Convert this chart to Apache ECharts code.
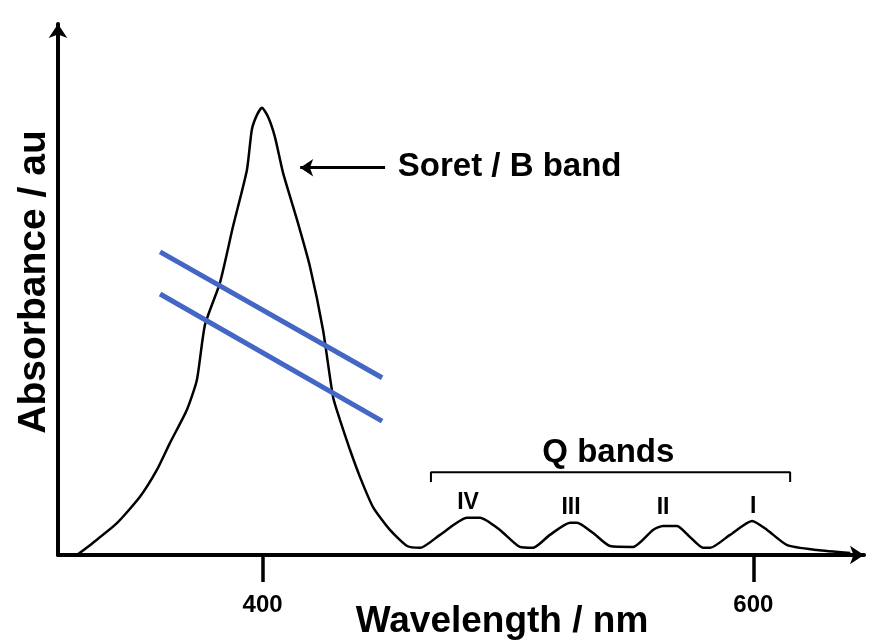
<!DOCTYPE html>
<html><head><meta charset="utf-8">
<script src="https://cdn.jsdelivr.net/npm/echarts@6/dist/echarts.min.js"></script>
<style>html,body{margin:0;padding:0;background:#fff}#c{width:871px;height:641px}</style>
</head><body><div id="c"></div>
<script>
// Spectrum (wavelength nm, absorbance au)
const wavelength = [324.3,330.8,340.6,350.0,356.9,362.2,369.1,373.2,376.5,382.6,387.9,393.6,395.6,397.7,399.7,402.2,405.0,408.3,414.0,419.3,424.6,428.7,431.5,435.6,439.7,445.0,451.9,458.9,464.2,472.3,483.3,488.6,496.7,504.9,510.2,517.1,525.3,528.1,534.7,541.6,551.0,559.1,563.2,568.9,574.2,579.5,582.4,590.5,599.5,605.6,613.8,626.0,639.5];
const absorbance = [0.0,2.7,7.1,13.0,19.0,25.0,32.4,39.1,51.4,60.8,73.3,86.0,95.0,98.3,99.9,97.9,93.4,85.4,74.9,64.4,50.3,35.3,30.2,23.5,17.4,10.7,5.6,2.0,1.6,4.5,8.3,8.3,5.6,1.8,1.6,4.5,7.2,7.2,4.9,2.0,1.8,5.6,6.5,6.5,4.0,1.6,1.6,4.5,7.6,5.6,2.2,1.1,0.45];
const tickValues = [400, 600];
const qBandLabels = ['IV','III','II','I'];
const qBandX = [483.7, 525.7, 563.2, 599.9];
const qBandY = [11.8, 10.5, 10.5, 10.7];
const breakLine1 = [[358.2,67.7],[448.7,39.6]];
const breakLine2 = [[358.2,58.3],[448.7,29.9]];
const bracket = [[468.6,16.3],[468.6,18.5],[615.0,18.5],[615.0,16.3]];
const soretArrow = [[449.9,86.5],[415.3,86.5]];

const FONT = 'Arial, "Liberation Sans", Helvetica, sans-serif';
const chart = echarts.init(document.getElementById('c'), null, {renderer:'canvas'});
const blue = '#4466C4';
const option = {
  animation:false,
  backgroundColor:'#ffffff',
  grid:{left:58, right:7, top:24, bottom:86},
  xAxis:{type:'value', min:316.6, max:645.1,
    axisLine:{show:true, symbol:['none','arrow'], symbolSize:[14,14], lineStyle:{color:'#000', width:4}},
    axisTick:{show:true, customValues:tickValues, length:27, inside:false, lineStyle:{color:'#000', width:3.5}},
    axisLabel:{show:true, customValues:tickValues, margin:38, fontSize:24, fontWeight:'bold', color:'#000', fontFamily:FONT},
    splitLine:{show:false}},
  yAxis:{type:'value', min:0, max:118.6,
    axisLine:{show:true, symbol:['none','arrow'], symbolSize:[14,14], lineStyle:{color:'#000', width:4}},
    axisTick:{show:false}, axisLabel:{show:false}, splitLine:{show:false}},
  series:[
    {type:'line', data:wavelength.map((w,i)=>[w,absorbance[i]]), showSymbol:false, smooth:0.2,
      lineStyle:{color:'#000', width:2.5}, z:2,
      markLine:{silent:true, symbol:['none','arrow'], symbolSize:[13,13],
        lineStyle:{color:'#000', width:3, type:'solid'}, label:{show:false},
        data:[[{coord:soretArrow[0]},{coord:soretArrow[1]}]]}},
    {type:'line', data:breakLine1, showSymbol:false, lineStyle:{color:blue, width:5}, z:3},
    {type:'line', data:breakLine2, showSymbol:false, lineStyle:{color:blue, width:5}, z:3},
    {type:'line', data:bracket, showSymbol:false, lineStyle:{color:'#000', width:2}, z:2}
  ]
};
chart.setOption(option);
const P = (x,y)=>chart.convertToPixel({gridIndex:0},[x,y]);
const texts = [];
const sp = P(455.1, 86.7);
texts.push({type:'text', x:sp[0], y:sp[1], style:{text:'Soret / B band', font:'bold 33px '+FONT, fill:'#000', textAlign:'left', textVerticalAlign:'middle'}});
const qp = P(540.9, 22.8);
texts.push({type:'text', x:qp[0], y:qp[1], style:{text:'Q bands', font:'bold 33px '+FONT, fill:'#000', textAlign:'center', textVerticalAlign:'middle'}});
qBandLabels.forEach((t,i)=>{const p=P(qBandX[i],qBandY[i]);
  texts.push({type:'text', x:p[0], y:p[1], style:{text:t, font:'bold 23px '+FONT, fill:'#000', textAlign:'center', textVerticalAlign:'middle'}});});
texts.push({type:'text', x:502, y:622, style:{text:'Wavelength / nm', font:'bold 37px '+FONT, fill:'#000', textAlign:'center', textVerticalAlign:'middle'}});
texts.push({type:'text', x:34, y:282, rotation:Math.PI/2, style:{text:'Absorbance / au', font:'bold 39px '+FONT, fill:'#000', textAlign:'center', textVerticalAlign:'middle'}});
chart.setOption({graphic:texts});
</script></body></html>
